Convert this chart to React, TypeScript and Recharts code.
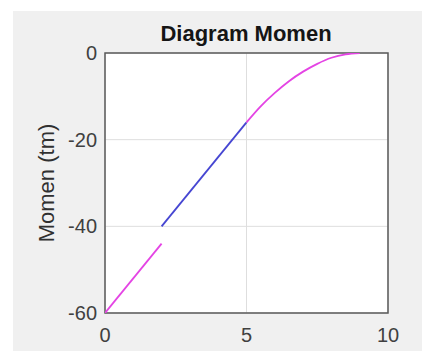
import React from 'react';
import { LineChart, Line, XAxis, YAxis, CartesianGrid, ReferenceArea } from 'recharts';

// values
const xTicks = [0, 5, 10];
const yTicks = [-60, -40, -20, 0];

const leftX = [0, 2];
const leftM = [-60, -44];

const midX = [2, 5];
const midM = [-40, -16];

const rightX = [5, 5.5, 6, 6.5, 7, 7.5, 8, 8.5, 9];
const rightM = [-16, -12.3, -9.2, -6.5, -4.3, -2.5, -1.1, -0.3, 0];

const toRows = (xs: number[], ys: number[]) => xs.map((x, i) => ({ x, m: ys[i] }));

const MAGENTA = '#e444e4';
const BLUE = '#4646d2';
const FONT = '"Liberation Sans", Arial, Helvetica, sans-serif';

export default function App() {
    const tickStyle = { fill: '#404040', fontSize: 20, fontFamily: FONT };

    return (
        <div style={{ position: 'absolute', left: 0, top: 0, width: 422, height: 351, background: '#fff' }}>
            <div style={{ position: 'absolute', left: 13, top: 11, right: 0, bottom: 0, background: '#f0f0f0' }} />

            {/* title */}
            <div style={{
                position: 'absolute', left: 146, width: 200, top: 21, textAlign: 'center',
                fontFamily: FONT, fontWeight: 'bold', fontSize: 22, color: '#151515', lineHeight: '26px'
            }}>
                Diagram Momen
            </div>

            {/* y label */}
            <div style={{
                position: 'absolute', left: 47, top: 183, width: 200, marginLeft: -100, marginTop: -13,
                textAlign: 'center', transform: 'rotate(-90deg)',
                fontFamily: FONT, fontSize: 22, color: '#303030', lineHeight: '26px'
            }}>
                Momen (tm)
            </div>

            <div style={{ position: 'absolute', left: 0, top: 0 }}>
                <LineChart width={422} height={351} margin={{ top: 53, right: 34, left: 45, bottom: 8 }}>
                    <CartesianGrid fill="#ffffff" fillOpacity={1} stroke="#dedede" strokeWidth={1} />
                    <XAxis
                        type="number"
                        dataKey="x"
                        domain={[0, 10]}
                        ticks={xTicks}
                        height={30}
                        axisLine={false}
                        tickLine={false}
                        tickMargin={9}
                        tick={tickStyle}
                        allowDataOverflow
                    />
                    <YAxis
                        type="number"
                        dataKey="m"
                        domain={[-60, 0]}
                        ticks={yTicks}
                        width={60}
                        axisLine={false}
                        tickLine={false}
                        tick={tickStyle}
                        allowDataOverflow
                    />
                    <ReferenceArea x1={0} x2={10} y1={-60} y2={0} fill="none" stroke="#5a5a5a" strokeWidth={1.5} />
                    <Line data={toRows(leftX, leftM)} dataKey="m" stroke={MAGENTA} strokeWidth={1.8} dot={false} isAnimationActive={false} />
                    <Line data={toRows(midX, midM)} dataKey="m" stroke={BLUE} strokeWidth={1.8} dot={false} isAnimationActive={false} />
                    <Line data={toRows(rightX, rightM)} dataKey="m" type="monotone" stroke={MAGENTA} strokeWidth={1.8} dot={false} isAnimationActive={false} />
                </LineChart>
            </div>
        </div>
    );
}
